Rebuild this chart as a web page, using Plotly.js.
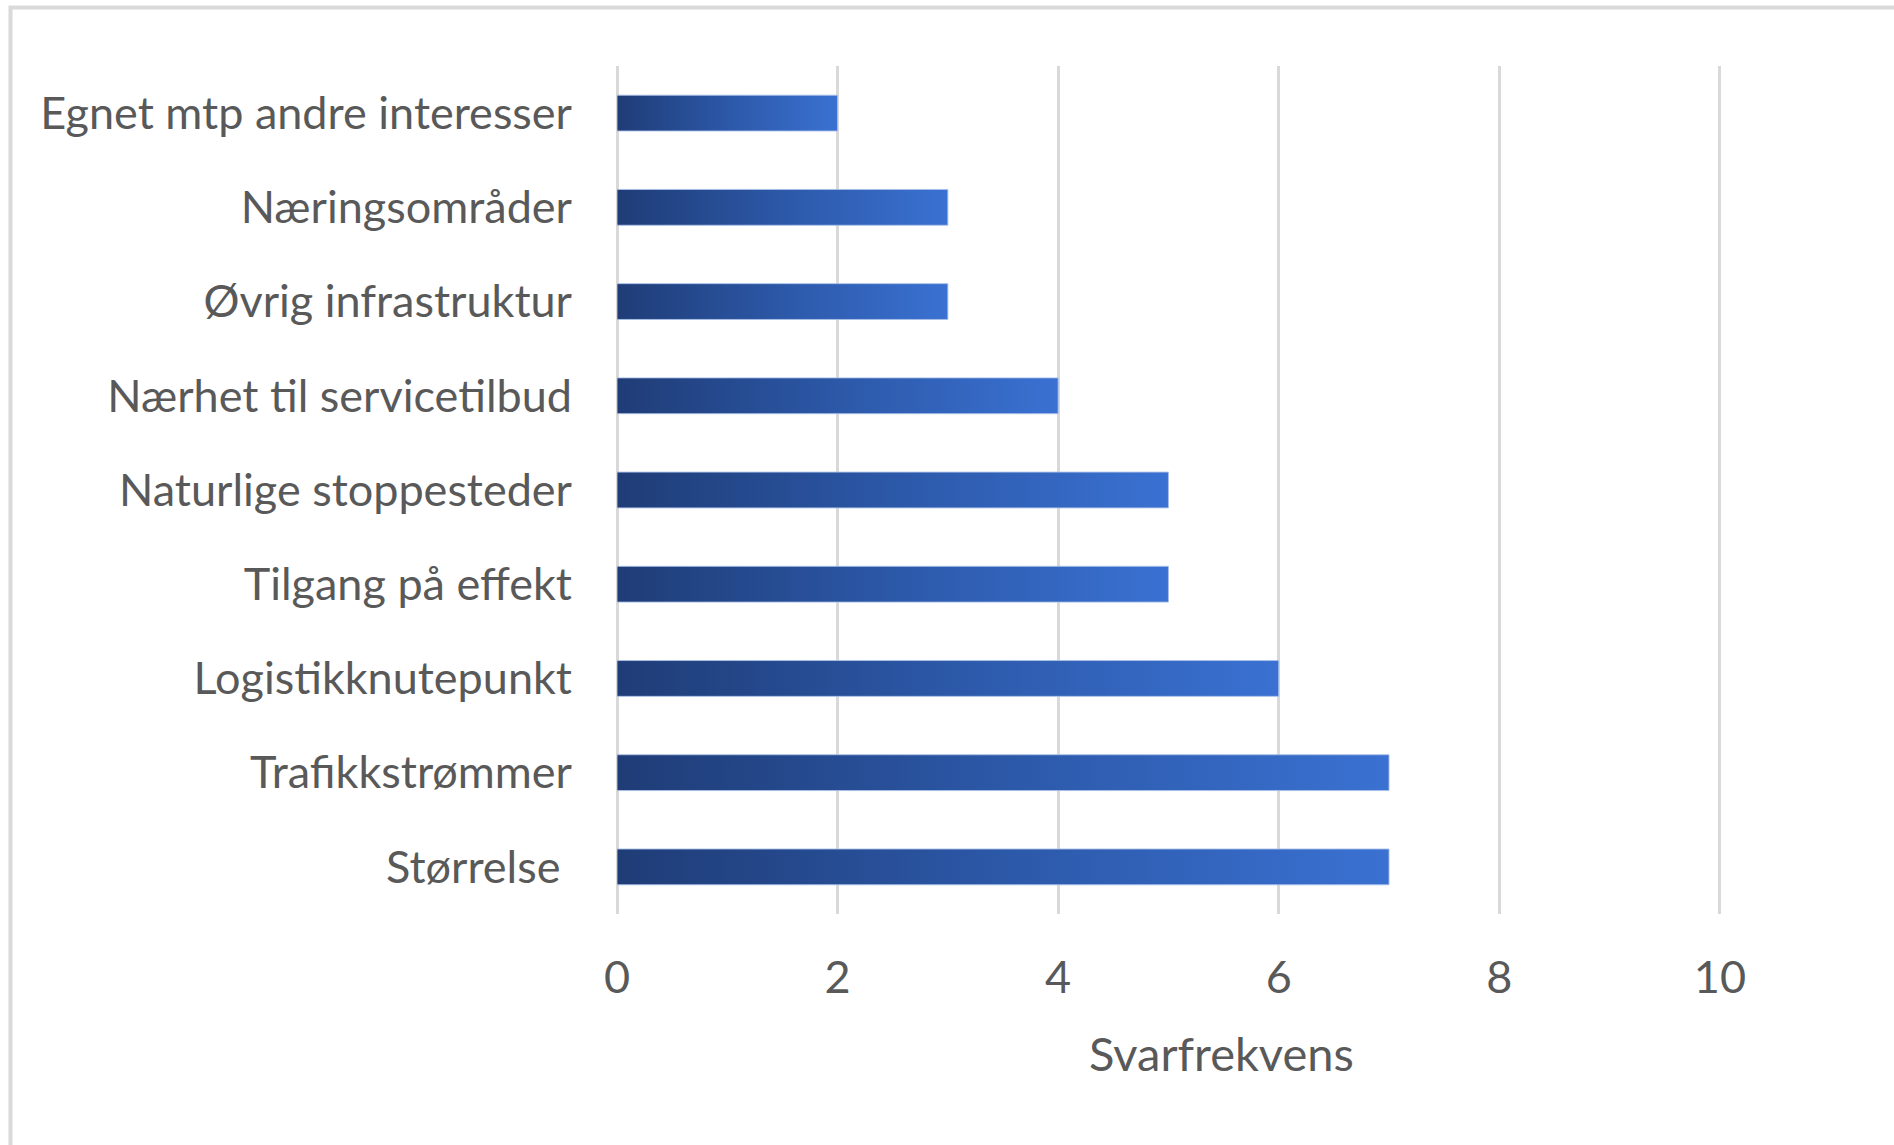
<!DOCTYPE html>
<html>
<head>
<meta charset="utf-8">
<script src="https://cdn.plot.ly/plotly-3.0.1.min.js"></script>
<style>
  html, body { margin: 0; padding: 0; background: #ffffff; }
  #chart { width: 1894px; height: 1145px; }
</style>
</head>
<body>
<div id="chart"></div>
<script>
// Categories listed top to bottom, with their answer counts
const categories = [
  'Egnet mtp andre interesser',
  'Næringsområder',
  'Øvrig infrastruktur',
  'Nærhet til servicetilbud',
  'Naturlige stoppesteder',
  'Tilgang på effekt',
  'Logistikknutepunkt',
  'Trafikkstrømmer',
  'Størrelse\u00a0'
];
const values = [2, 3, 3, 4, 5, 5, 6, 7, 7];
const xTicks = [0, 2, 4, 6, 8, 10];
const xTitle = 'Svarfrekvens';

const textColor = '#595959';
const fontFamily = 'Lato, "Open Sans", sans-serif';
const halfBar = 0.19;

// Each bar is a filled rectangle with its own left-to-right gradient
const traces = categories.map((cat, i) => {
  const v = values[i];
  return {
    type: 'scatter',
    mode: 'lines',
    x: [0, v, v, 0, 0],
    y: [i - halfBar, i - halfBar, i + halfBar, i + halfBar, i - halfBar],
    fill: 'toself',
    fillgradient: {
      type: 'horizontal',
      colorscale: [[0, '#1f3c76'], [0.5, '#2c58a8'], [1, '#3a71d2']]
    },
    line: { color: 'rgba(170,192,232,0.9)', width: 1 },
    hoveron: 'fills',
    text: cat.trim() + ': ' + v,
    hoverinfo: 'text',
    showlegend: false
  };
});

const W = 1894, H = 1145;
const m = { l: 617, r: 173, t: 66, b: 231 };
const pw = W - m.l - m.r, ph = H - m.t - m.b;
const px = p => (p - m.l) / pw;          // pixel -> paper x
const py = p => (H - m.b - p) / ph;      // pixel -> paper y

const layout = {
  width: W,
  height: H,
  margin: m,
  paper_bgcolor: '#ffffff',
  plot_bgcolor: '#ffffff',
  font: { family: fontFamily, color: textColor, size: 45 },
  xaxis: {
    // a hair past 10 so the last gridline is kept
    range: [0, 10.01],
    tickvals: xTicks,
    ticktext: xTicks.map(String),
    showgrid: true,
    gridcolor: '#d9d9d9',
    gridwidth: 3,
    zeroline: true,
    zerolinecolor: '#d9d9d9',
    zerolinewidth: 3,
    showline: false,
    ticks: '',
    ticklabelstandoff: 33,
    tickfont: { family: fontFamily, size: 45, color: textColor },
    fixedrange: true
  },
  yaxis: {
    range: [8.5, -0.5],
    tickvals: categories.map((_, i) => i),
    ticktext: categories,
    showgrid: false,
    zeroline: false,
    showline: false,
    ticks: '',
    ticklabelstandoff: 44,
    tickfont: { family: fontFamily, size: 45, color: textColor },
    fixedrange: true
  },
  annotations: [{
    text: xTitle,
    xref: 'paper', yref: 'paper',
    x: px(1221), y: py(1053),
    xanchor: 'center', yanchor: 'middle',
    showarrow: false,
    font: { family: fontFamily, size: 47, color: textColor }
  }],
  shapes: [{
    // chart frame: left and top edges
    type: 'path',
    xref: 'paper', yref: 'paper',
    path: `M ${px(10.5)} ${py(1160)} L ${px(10.5)} ${py(7.5)} L ${px(1910)} ${py(7.5)}`,
    line: { color: '#d9d9d9', width: 4 },
    layer: 'below'
  }]
};

Plotly.newPlot('chart', traces, layout, { displayModeBar: false });
</script>
</body>
</html>
